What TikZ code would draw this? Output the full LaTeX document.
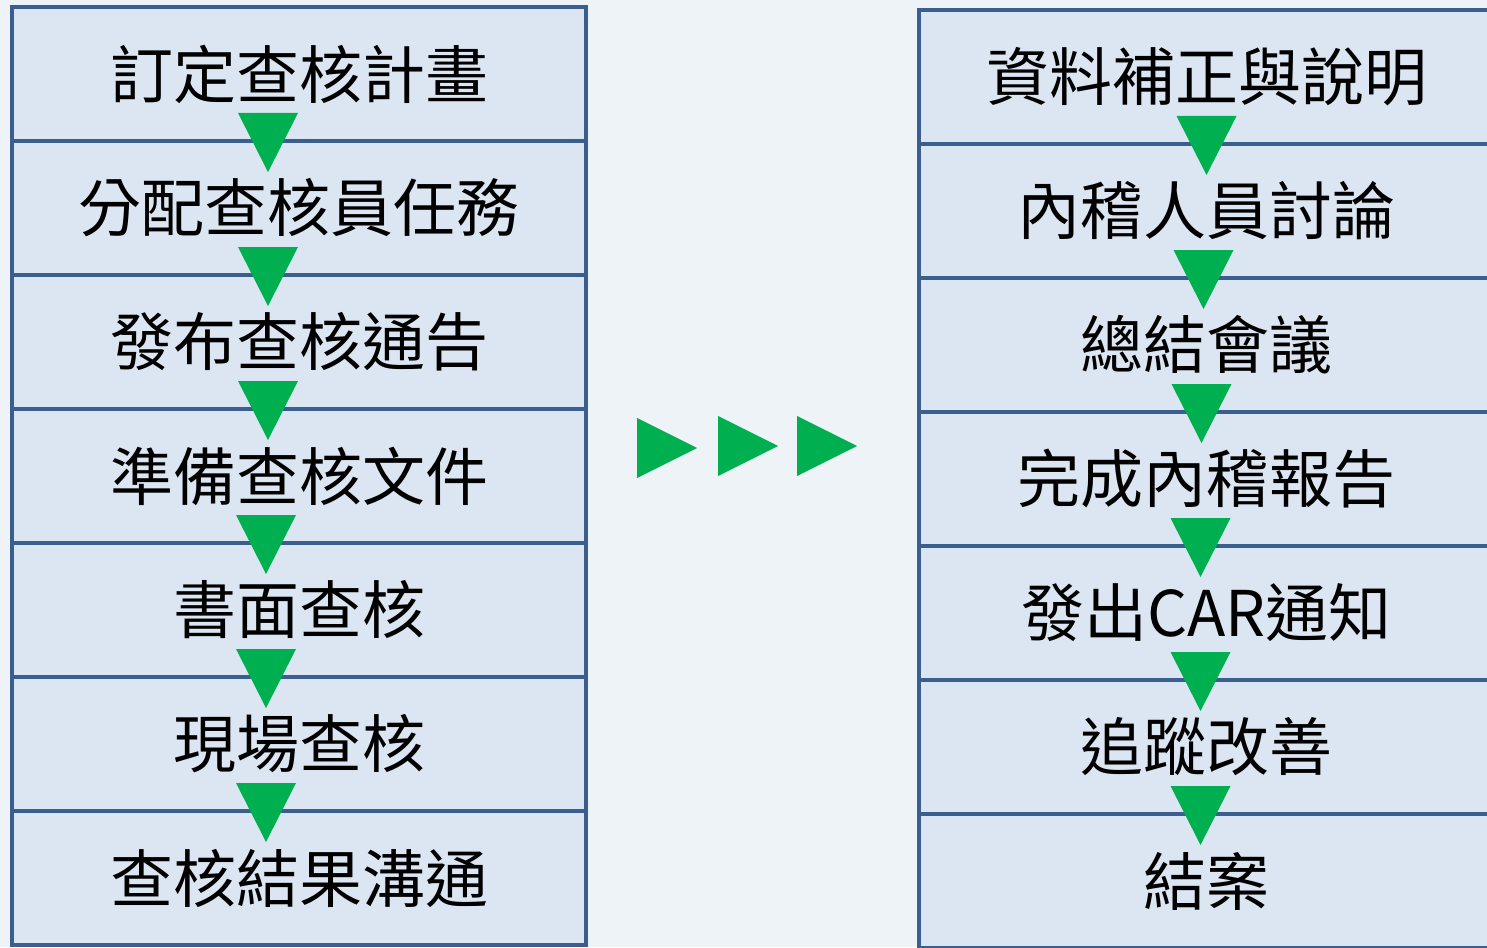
\documentclass[tikz,border=0pt]{standalone}
\usepackage{fontspec}
\newfontfamily\cjk{Noto Sans CJK TC}
\usetikzlibrary{calc}
\definecolor{bgc}{HTML}{EEF3F8}
\definecolor{boxfill}{HTML}{DCE6F2}
\definecolor{boxline}{HTML}{3A5F8F}
\definecolor{arrowgreen}{HTML}{00B050}
\tikzset{
  stepbox/.style={draw=boxline, fill=boxfill, line width=2pt, minimum width=287pt, minimum height=67pt, inner sep=0pt, outer sep=0pt, font=\cjk\fontsize{31.5pt}{36pt}\selectfont, text=black},
  downtri/.style={fill=arrowgreen},
}
\newcommand{\downarrowat}[2]{% node name, x offset from south
  \fill[downtri] ($(#1.south)+(#2-30,-28)$) -- ($(#1.south)+(#2+30,-28)$) -- ($(#1.south)+(#2,31)$) -- cycle;}
\begin{document}
\begin{tikzpicture}[x=0.5pt,y=-0.5pt]
\useasboundingbox (0,0) rectangle (1487,947);
\fill[bgc] (0,0) rectangle (1487,947);
\begin{scope}
\clip (0,0) rectangle (1487,947);
% left column
\foreach \i/\t in {0/訂定查核計畫,1/分配查核員任務,2/發布查核通告,3/準備查核文件,4/書面查核,5/現場查核,6/查核結果溝通}{
  \node[stepbox] (l\i) at (299,{74+134*\i}) {\t};
}
% right column
\foreach \i/\t in {0/資料補正與說明,1/內稽人員討論,2/總結會議,3/完成內稽報告,4/發出CAR通知,5/追蹤改善,6/結案}{
  \node[stepbox, minimum width=287.5pt] (r\i) at (1206.5,{77+134*\i}) {\t};
}
% down arrows
\downarrowat{l0}{-31}
\downarrowat{l1}{-31}
\downarrowat{l2}{-31}
\downarrowat{l3}{-33}
\downarrowat{l4}{-33}
\downarrowat{l5}{-33}
\downarrowat{r0}{0}
\downarrowat{r1}{-3}
\downarrowat{r2}{-5}
\downarrowat{r3}{-6}
\downarrowat{r4}{-6}
\downarrowat{r5}{-6}
\end{scope}
% right-pointing arrows between columns
\coordinate (a1) at (637,418);
\coordinate (a2) at (718,416);
\coordinate (a3) at (797,416);
\foreach \a in {a1,a2,a3}{
  \fill[arrowgreen] (\a) -- ($(\a)+(60,30)$) -- ($(\a)+(0,60)$) -- cycle;
}
\end{tikzpicture}
\end{document}
